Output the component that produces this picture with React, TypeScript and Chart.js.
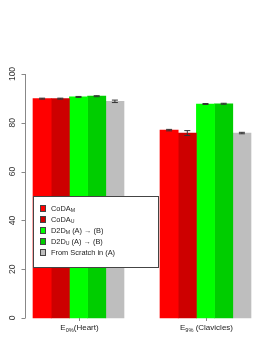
import React, { useEffect, useRef } from "react";
import { Chart, registerables } from "chart.js";

Chart.register(...registerables);

const categories = ["Heart", "Clavicles"];
const xLabelSubs = ["0%", "9%"];
const xLabelRest = ["(Heart)", " (Clavicles)"];

const seriesMain = ["CoDA", "CoDA", "D2D", "D2D", "From Scratch in (A)"];
const seriesSub = ["M", "U", "M", "U", ""];
const seriesRest = ["", "", " (A) \u2192 (B)", " (A) \u2192 (B)", ""];
const seriesColors = ["#FF0000", "#CD0000", "#00FF00", "#00CD00", "#BEBEBE"];

const codaM = [89.9, 77.0];
const codaU = [89.9, 75.8];
const d2dM = [90.6, 87.7];
const d2dU = [90.9, 87.8];
const scratch = [88.8, 75.8];

const codaMErr = [0.2, 0.3];
const codaUErr = [0.2, 1.0];
const d2dMErr = [0.2, 0.2];
const d2dUErr = [0.2, 0.2];
const scratchErr = [0.5, 0.3];

const yTicks = [0, 20, 40, 60, 80, 100];

const seriesValues = [codaM, codaU, d2dM, d2dU, scratch];
const seriesErrors = [codaMErr, codaUErr, d2dMErr, d2dUErr, scratchErr];

const FONT = "'Liberation Sans', Arial, 'DejaVu Sans', sans-serif";

function drawRich(ctx: CanvasRenderingContext2D, x: number, y: number, main: string, sub: string, rest: string, size: number, align: "left" | "center") {
  const subSize = size * 0.7;
  ctx.font = `${size}px ${FONT}`;
  const w1 = ctx.measureText(main).width;
  const w3 = ctx.measureText(rest).width;
  ctx.font = `${subSize}px ${FONT}`;
  const w2 = sub ? ctx.measureText(sub).width : 0;
  const total = w1 + w2 + w3;
  let cx = align === "center" ? x - total / 2 : x;
  ctx.textAlign = "left";
  ctx.textBaseline = "middle";
  ctx.font = `${size}px ${FONT}`;
  ctx.fillText(main, cx, y);
  cx += w1;
  if (sub) {
    ctx.font = `${subSize}px ${FONT}`;
    ctx.fillText(sub, cx, y + size * 0.3);
    cx += w2;
  }
  ctx.font = `${size}px ${FONT}`;
  ctx.fillText(rest, cx, y);
}

const decorPlugin = {
  id: "decor",
  afterDatasetsDraw(chart: any) {
    const ctx: CanvasRenderingContext2D = chart.ctx;
    const yScale = chart.scales.y;
    ctx.save();
    ctx.strokeStyle = "#333";
    ctx.lineWidth = 1;
    seriesErrors.forEach((errs, di) => {
      const meta = chart.getDatasetMeta(di);
      meta.data.forEach((bar: any, i: number) => {
        const v = seriesValues[di][i];
        const e = errs[i];
        const x = bar.x;
        const yTop = yScale.getPixelForValue(v + e);
        const yBot = yScale.getPixelForValue(v - e);
        ctx.beginPath();
        ctx.moveTo(x, yTop);
        ctx.lineTo(x, yBot);
        ctx.moveTo(x - 3, yTop);
        ctx.lineTo(x + 3, yTop);
        ctx.moveTo(x - 3, yBot);
        ctx.lineTo(x + 3, yBot);
        ctx.stroke();
      });
    });
    ctx.restore();
  },
  afterDraw(chart: any) {
    const ctx: CanvasRenderingContext2D = chart.ctx;
    const yScale = chart.scales.y;
    const xScale = chart.scales.x;
    ctx.save();
    const axX = 25.5;
    const y0 = yScale.getPixelForValue(yTicks[0]);
    const y1 = yScale.getPixelForValue(yTicks[yTicks.length - 1]);
    ctx.strokeStyle = "#888";
    ctx.lineWidth = 1;
    ctx.beginPath();
    ctx.moveTo(axX, y0);
    ctx.lineTo(axX, y1);
    yTicks.forEach((t) => {
      const py = Math.round(yScale.getPixelForValue(t)) + 0.5;
      ctx.moveTo(axX, py);
      ctx.lineTo(axX - 4, py);
    });
    ctx.stroke();
    ctx.fillStyle = "#333";
    ctx.font = `8.5px ${FONT}`;
    ctx.textAlign = "center";
    ctx.textBaseline = "middle";
    yTicks.forEach((t) => {
      const py = yScale.getPixelForValue(t);
      ctx.save();
      ctx.translate(13, py);
      ctx.rotate(-Math.PI / 2);
      ctx.fillText(String(t), 0, 0);
      ctx.restore();
    });
    categories.forEach((c, i) => {
      const px = Math.round(xScale.getPixelForValue(i)) + 0.5;
      ctx.strokeStyle = "#888";
      ctx.beginPath();
      ctx.moveTo(px, y0);
      ctx.lineTo(px, y0 + 3);
      ctx.stroke();
      ctx.fillStyle = "#222";
      drawRich(ctx, px, 328, "E", xLabelSubs[i], xLabelRest[i], 8, "center");
    });
    const lx = 33.5, ly = 196.5, lw = 125, lh = 71;
    ctx.fillStyle = "#fff";
    ctx.fillRect(lx, ly, lw, lh);
    ctx.strokeStyle = "#444";
    ctx.strokeRect(lx, ly, lw, lh);
    seriesMain.forEach((m, i) => {
      const ry = 208.5 + i * 11;
      ctx.fillStyle = seriesColors[i];
      ctx.fillRect(40.5, ry - 3, 5, 6);
      ctx.strokeStyle = "#444";
      ctx.strokeRect(40.5, ry - 3, 5, 6);
      ctx.fillStyle = "#222";
      drawRich(ctx, 51, ry, m, seriesSub[i], seriesRest[i], 7.4, "left");
    });
    ctx.restore();
  },
};

export default function App() {
  const ref = useRef<HTMLCanvasElement>(null);
  useEffect(() => {
    if (!ref.current) return;
    const chart = new Chart(ref.current, {
      type: "bar",
      data: {
        labels: categories,
        datasets: seriesValues.map((vals, i) => ({
          label: seriesMain[i] + seriesSub[i] + seriesRest[i],
          data: vals,
          backgroundColor: seriesColors[i],
          borderWidth: 0,
          barThickness: 18.2,
          clip: false as any,
        })),
      },
      options: {
        responsive: false,
        animation: false,
        events: [],
        layout: { padding: { left: 78.5, right: 266 - 205.5, top: 74, bottom: 344 - 318 } },
        plugins: { legend: { display: false }, tooltip: { enabled: false } },
        scales: {
          x: { display: false, offset: false, grid: { offset: false } },
          y: { display: false, min: 0, max: 100 },
        },
      },
      plugins: [decorPlugin],
    });
    return () => chart.destroy();
  }, []);
  return (
    <div style={{ position: "absolute", left: 0, top: 0, width: 266, height: 344, background: "#fff" }}>
      <canvas ref={ref} width={266} height={344} />
    </div>
  );
}
